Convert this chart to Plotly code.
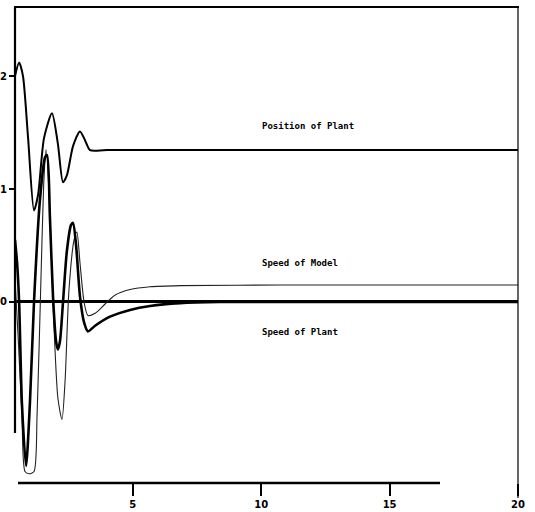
import plotly.graph_objects as go

# ---- data (time in s) ----
t_pos = [0.41, 0.57, 0.72, 0.92, 1.15, 1.31, 1.54, 1.85, 2.08, 2.28, 2.43, 2.67, 2.94, 3.14, 3.33, 4.0, 20.0]
position_plant = [2.0, 2.12, 2.0, 1.45, 0.81, 0.95, 1.45, 1.67, 1.40, 1.06, 1.12, 1.38, 1.51, 1.43, 1.345, 1.345, 1.345]

t_sp_plant = [0.41, 0.49, 0.57, 0.68, 0.84, 0.99, 1.15, 1.38, 1.58, 1.66, 1.77, 1.89, 2.01, 2.08, 2.16,
              2.28, 2.43, 2.59, 2.67, 2.79, 2.94, 3.10, 3.25, 3.53, 4.11, 4.89, 5.67, 6.84, 8.39, 20.0]
speed_plant = [0.55, 0.35, 0.0, -0.9, -1.45, -0.9, 0.0, 0.9, 1.28, 1.30, 0.75, 0.05, -0.35, -0.42, -0.35,
               0.0, 0.45, 0.68, 0.70, 0.50, 0.05, -0.18, -0.26, -0.21, -0.13, -0.07, -0.035, -0.01, 0.0, 0.0]

t_sp_model = [0.41, 0.53, 0.68, 0.80, 0.96, 1.15, 1.27, 1.42, 1.54, 1.62, 1.73, 1.89, 2.08, 2.24, 2.36,
              2.51, 2.71, 2.82, 2.94, 3.10, 3.25, 3.53, 3.91, 4.30, 4.89, 5.67, 6.84, 10.73, 20.0]
speed_model = [0.2, -0.3, -1.0, -1.5, -1.52, -1.5, -1.0, 0.2, 1.1, 1.35, 1.0, 0.0, -0.85, -1.04, -0.7,
               0.1, 0.55, 0.62, 0.35, 0.0, -0.12, -0.1, -0.02, 0.06, 0.11, 0.135, 0.145, 0.15, 0.15]

x_ticks = [5, 10, 15, 20]
y_ticks = [0, 1, 2]
labels = ["Position of Plant", "Speed of Model", "Speed of Plant"]

W, H = 535, 512
def px(x):
    return x / W
def py(y):
    return 1 - y / H

fig = go.Figure()
fig.add_trace(go.Scatter(x=t_pos, y=position_plant, mode="lines",
                         line=dict(color="black", width=2, shape="spline", smoothing=0.7),
                         name=labels[0], showlegend=False))
fig.add_trace(go.Scatter(x=t_sp_model, y=speed_model, mode="lines",
                         line=dict(color="#222222", width=1.1, shape="spline", smoothing=0.7),
                         name=labels[1], showlegend=False))
fig.add_trace(go.Scatter(x=t_sp_plant, y=speed_plant, mode="lines",
                         line=dict(color="black", width=2.6, shape="spline", smoothing=0.7),
                         name=labels[2], showlegend=False))

shapes = [
    dict(type="line", xref="paper", yref="paper", x0=px(14), x1=px(519), y0=py(7), y1=py(7),
         line=dict(color="black", width=2.2)),
    dict(type="line", xref="paper", yref="paper", x0=px(15), x1=px(15), y0=py(7), y1=py(433),
         line=dict(color="black", width=2.2)),
    dict(type="line", xref="paper", yref="paper", x0=px(518), x1=px(518), y0=py(7), y1=py(498),
         line=dict(color="black", width=1.2)),
    dict(type="line", xref="paper", yref="paper", x0=px(18), x1=px(440), y0=py(483), y1=py(483),
         line=dict(color="black", width=2.6)),
]

annos = [
    dict(text=labels[0], x=px(308), y=py(126)),
    dict(text=labels[1], x=px(300), y=py(263)),
    dict(text=labels[2], x=px(300), y=py(332)),
]
annotations = [dict(xref="paper", yref="paper", showarrow=False, xanchor="center", yanchor="middle",
                    font=dict(family="DejaVu Sans Mono", size=9, color="black", weight="bold"), **a)
               for a in annos]

fig.update_layout(
    width=W, height=H,
    margin=dict(l=0, r=0, t=0, b=0, autoexpand=False),
    paper_bgcolor="white", plot_bgcolor="white",
    shapes=shapes, annotations=annotations,
    xaxis=dict(domain=[px(15), px(518)], range=[0.41, 20.0], showgrid=False, zeroline=False,
               showline=False, tickvals=x_ticks, ticktext=[str(v) for v in x_ticks],
               ticks="outside", ticklen=12, tickwidth=1.5, tickcolor="black",
               tickfont=dict(family="DejaVu Sans", size=10, color="black", weight="bold")),
    yaxis=dict(domain=[py(483), py(8)], range=[-1.602, 2.602], showgrid=False,
               zeroline=True, zerolinecolor="black", zerolinewidth=2.6,
               showline=False, tickvals=y_ticks, ticktext=[str(v) for v in y_ticks],
               ticks="outside", ticklen=5, tickwidth=1.5, tickcolor="black",
               tickfont=dict(family="DejaVu Sans", size=10, color="black", weight="bold")),
)

# remove the default 8px page margin so the figure sits at the window's top-left corner
fig.write_html("out.html", config={"displayModeBar": False},
               post_script="document.body.style.margin='0px';")
